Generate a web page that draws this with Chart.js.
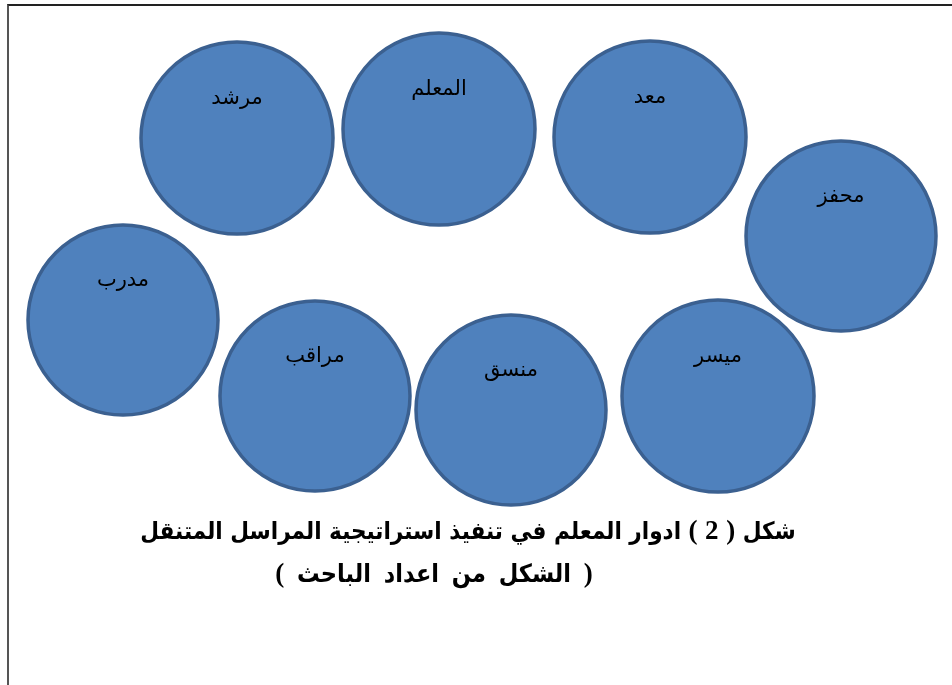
<!DOCTYPE html>
<html>
<head>
<meta charset="utf-8">
<script src="https://cdn.jsdelivr.net/npm/chart.js@4/dist/chart.umd.min.js"></script>
<style>
  html, body { margin: 0; padding: 0; background: #fff; }
  #wrap { position: relative; width: 952px; height: 685px; overflow: hidden; }
  #frame { position: absolute; left: 7px; top: 4px; width: 960px; height: 700px;
           border-top: 2px solid #222; border-left: 2px solid #555; box-sizing: border-box; }
  canvas { position: absolute; left: 0; top: 0; }
  .cap { position: absolute; direction: rtl; unicode-bidi: plaintext;
         font-family: "DejaVu Sans Condensed", "DejaVu Sans", sans-serif;
         font-weight: bold; font-size: 24px; color: #000; white-space: nowrap;
         transform: translateX(-50%); line-height: 1; }
  .cap .n { font-family: "Liberation Serif", "DejaVu Serif", serif; font-size: 27px; }
</style>
</head>
<body>
<div id="wrap">
  <div id="frame"></div>
  <canvas id="c" width="952" height="685"></canvas>
  <div class="cap" id="cap1" style="left:468px; top:517px;"></div>
  <div class="cap" id="cap2" style="left:434px; top:560px; font-size: 25px; word-spacing: 5px;"></div>
</div>
<script>
// Roles (labels) and their placement on the diagram (x, y in layout units)
const roles   = ["مرشد", "المعلم", "معد", "محفز", "مدرب", "مراقب", "منسق", "ميسر"];
const roleX   = [237, 439, 650, 841, 123, 315, 511, 718];
const roleY   = [138, 129, 137, 236, 320, 396, 410, 396];
const roleR   = [96, 96, 96, 95, 95, 95, 95, 96];
const captionLine1 = "شكل ( 2 ) ادوار المعلم في تنفيذ استراتيجية المراسل المتنقل";
const captionLine2 = "( الشكل من اعداد الباحث )";

function fillCaption(id, text) {
  const el = document.getElementById(id);
  text.split(/([()0-9]+)/).forEach(part => {
    if (!part) return;
    if (/^[()0-9]+$/.test(part)) {
      const s = document.createElement('span');
      s.className = 'n';
      s.textContent = part;
      el.appendChild(s);
    } else {
      el.appendChild(document.createTextNode(part));
    }
  });
}
fillCaption('cap1', captionLine1);
fillCaption('cap2', captionLine2);

class FlatBubble extends Chart.BubbleController {
  getMaxOverflow() { return 0; }
}
FlatBubble.id = 'flatBubble';
FlatBubble.defaults = Chart.BubbleController.defaults;
FlatBubble.overrides = Chart.BubbleController.overrides;
Chart.register(FlatBubble);

const labelPlugin = {
  id: 'roleLabels',
  afterDatasetsDraw(chart) {
    const ctx = chart.ctx;
    const xs = chart.scales.x, ys = chart.scales.y;
    ctx.save();
    ctx.fillStyle = '#000';
    ctx.font = '21px "DejaVu Sans", "Noto Sans", sans-serif';
    ctx.textAlign = 'center';
    ctx.textBaseline = 'middle';
    roles.forEach((t, i) => {
      const px = xs.getPixelForValue(roleX[i]);
      const py = ys.getPixelForValue(roleY[i]);
      ctx.fillText(t, px, py - 39);
    });
    ctx.restore();
  }
};

new Chart(document.getElementById('c'), {
  type: 'flatBubble',
  data: {
    labels: roles,
    datasets: [{
      data: roles.map((t, i) => ({ x: roleX[i], y: roleY[i], r: roleR[i] })),
      backgroundColor: '#4f81bd',
      borderColor: '#3b6090',
      borderWidth: 3.5,
      hoverRadius: 0,
      clip: false
    }]
  },
  options: {
    responsive: false,
    animation: false,
    devicePixelRatio: 1,
    layout: { padding: 0 },
    plugins: { legend: { display: false }, tooltip: { enabled: false } },
    events: [],
    scales: {
      x: { type: 'linear', min: 0, max: 952, display: false },
      y: { type: 'linear', min: 0, max: 685, reverse: true, display: false }
    }
  },
  plugins: [labelPlugin]
});
</script>
</body>
</html>
